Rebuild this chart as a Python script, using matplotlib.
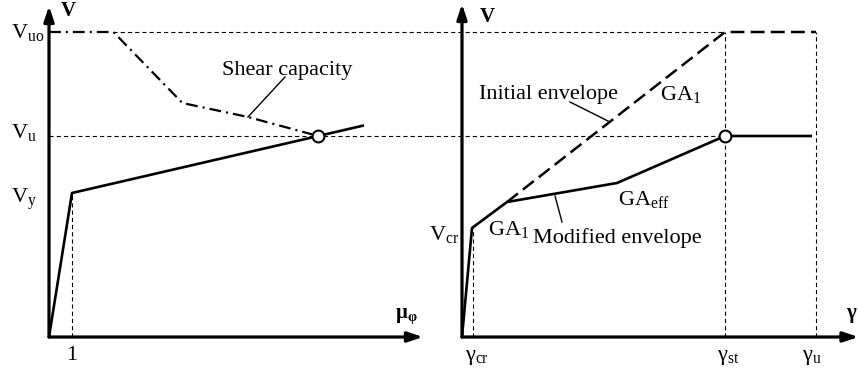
import matplotlib
matplotlib.use("Agg")
import matplotlib.pyplot as plt

plt.rcParams["font.family"] = ["Liberation Serif", "DejaVu Serif"]
plt.rcParams["mathtext.fontset"] = "custom"
plt.rcParams["mathtext.rm"] = "Liberation Serif"
plt.rcParams["mathtext.bf"] = "Liberation Serif:bold"
plt.rcParams["mathtext.it"] = "Liberation Serif:italic"
plt.rcParams["lines.scale_dashes"] = False

# ---- left panel: flexural envelope vs. shear capacity (V against ductility mu) ----
mu_env = [0.0, 1.0, 13.7]
V_env = [0.0, 144.0, 211.6]
mu_shear = [0.0, 2.8, 5.8, 8.65, 11.7]
V_shear = [305.0, 305.0, 234.0, 220.0, 201.0]
mu_yield = 1.0
V_y, V_u, V_uo = 144.0, 201.0, 305.0
mu_fail = 11.7

# ---- right panel: shear envelopes (V against shear strain gamma) ----
g_mod = [0.0, 1.0, 4.5, 15.5, 26.3, 35.0]
V_mod = [0.0, 109.0, 135.0, 154.0, 201.0, 201.0]
g_init = [4.5, 26.3, 35.4]
V_init = [135.0, 305.0, 305.0]
g_cr, g_st, g_u = 1.1, 26.3, 35.4
V_cr = 109.0

FS = 16
thin = dict(color="k", lw=0.8, dashes=(3.0, 2.2), zorder=1)
curve = dict(color="k", lw=1.9, zorder=2, solid_capstyle="butt")
arrow = dict(arrowstyle="-|>,head_length=0.9,head_width=0.3", lw=2.3,
             color="k", shrinkA=0, shrinkB=0)

fig = plt.figure(figsize=(8.59, 3.68), dpi=100)
axL = fig.add_axes([0, 0, 430 / 859, 1])
axR = fig.add_axes([429 / 859, 0, 430 / 859, 1])
for ax in (axL, axR):
    ax.set_axis_off()
    ax.set_ylim(-31, 337)
axL.set_xlim(-49 / 23, 381 / 23)
axR.set_xlim(-3.3, 39.7)

# left panel
ax = axL
ax.plot([mu_shear[1], ax.get_xlim()[1]], [V_uo, V_uo], **thin)
ax.plot([0, ax.get_xlim()[1]], [V_u, V_u], **thin)
ax.plot([mu_yield, mu_yield], [0, V_y], **thin)
ax.plot(mu_env, V_env, **curve)
ax.plot(mu_shear, V_shear, color="k", lw=1.6, dashes=(8.5, 3.6, 1.5, 3.6), zorder=2)
ax.plot([mu_fail], [V_u], "o", ms=8.5, mfc="white", mec="k", mew=1.5, zorder=5)
ax.annotate("", xy=(16.26, 0), xytext=(0, 0), arrowprops=arrow, zorder=3)
ax.annotate("", xy=(0, 331), xytext=(0, 0), arrowprops=arrow, zorder=3)
ax.plot([10.26, mu_shear[3]], [260, V_shear[3]], color="k", lw=1.0)
ax.text(7.52, 262, "Shear capacity", fontsize=FS, va="baseline")
ax.text(0.48, 321, r"$\mathbf{V}$", fontsize=15, va="baseline")
ax.text(15.04, 19, r"$\mathbf{μ}_{\mathbf{φ}}$", fontsize=15, va="baseline")
ax.text(-1.65, V_uo - 6, r"$\mathrm{V}_{\mathrm{uo}}$", fontsize=FS, va="baseline")
ax.text(-1.65, V_u - 2, r"$\mathrm{V}_{\mathrm{u}}$", fontsize=FS, va="baseline")
ax.text(-1.65, V_y - 10, r"$\mathrm{V}_{\mathrm{y}}$", fontsize=FS, va="baseline")
ax.text(mu_yield, -23, "1", fontsize=FS, ha="center", va="baseline")

# right panel
ax = axR
xmin = ax.get_xlim()[0]
ax.plot([xmin, g_st], [V_uo, V_uo], **thin)
ax.plot([xmin, g_st], [V_u, V_u], **thin)
ax.plot([g_cr, g_cr], [0, V_cr], **thin)
ax.plot([g_st, g_st], [0, V_uo], **thin)
ax.plot([g_u, g_u], [0, V_uo], **thin)
ax.plot(g_mod, V_mod, **curve)
ax.plot(g_init, V_init, color="k", lw=1.8, dashes=(10, 4.5), zorder=2)
ax.plot([g_st], [V_u], "o", ms=8.5, mfc="white", mec="k", mew=1.5, zorder=5)
ax.annotate("", xy=(39.65, 0), xytext=(0, 0), arrowprops=arrow, zorder=3)
ax.annotate("", xy=(0, 333), xytext=(0, 0), arrowprops=arrow, zorder=3)
ax.plot([10.8, 14.6], [235, 216], color="k", lw=1.0)
ax.plot([9.3, 10.0], [141, 115], color="k", lw=1.0)
ax.text(1.7, 315, r"$\mathbf{V}$", fontsize=15, va="baseline")
ax.text(38.4, 19, r"$\mathbf{γ}$", fontsize=15, va="baseline")
ax.text(1.7, 238, "Initial envelope", fontsize=FS, va="baseline")
ax.text(19.8, 237, r"$\mathrm{GA}_{\mathrm{1}}$", fontsize=FS, va="baseline")
ax.text(15.6, 132, r"$\mathrm{GA}_{\mathrm{eff}}$", fontsize=FS, va="baseline")
ax.text(2.6, 102, r"$\mathrm{GA}_{\mathrm{1}}$", fontsize=FS, va="baseline")
ax.text(7.1, 94, "Modified envelope", fontsize=FS, va="baseline")
ax.text(-0.3, 97, r"$\mathrm{V}_{\mathrm{cr}}$", fontsize=FS, ha="right", va="baseline")
ax.text(1.5, -23, r"$\mathrm{γ}_{\mathrm{cr}}$", fontsize=FS, ha="center", va="baseline")
ax.text(26.6, -23, r"$\mathrm{γ}_{\mathrm{st}}$", fontsize=FS, ha="center", va="baseline")
ax.text(35.0, -23, r"$\mathrm{γ}_{\mathrm{u}}$", fontsize=FS, ha="center", va="baseline")

fig.savefig("out.png", dpi=100)
